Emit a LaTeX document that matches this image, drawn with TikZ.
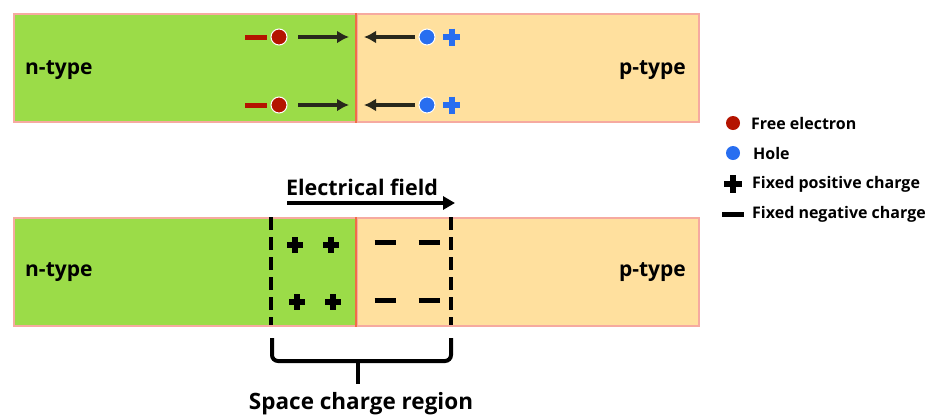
\documentclass[tikz,border=0pt]{standalone}
\usepackage{fontspec}
\setmainfont{Open Sans}
\usetikzlibrary{arrows.meta}
\definecolor{ngreen}{RGB}{155,220,72}
\definecolor{ppeach}{RGB}{255,224,158}
\definecolor{edge}{RGB}{246,170,160}
\definecolor{junc}{RGB}{240,110,70}
\definecolor{elec}{RGB}{180,20,0}
\definecolor{hole}{RGB}{40,110,240}
\definecolor{arr}{RGB}{40,40,28}
\tikzset{
  region/.style={draw=edge, line width=2pt, minimum height=108pt, anchor=north west, inner sep=0pt},
  lbl/.style={font=\bfseries\fontsize{21}{24}\selectfont, inner sep=0pt},
  captxt/.style={font=\bfseries\fontsize{21.5}{24}\selectfont, inner sep=0pt},
  leg/.style={font=\bfseries\fontsize{16}{18}\selectfont, inner sep=0pt, anchor=west},
  flow/.style={arr, line width=4pt, -{Latex[length=12pt,width=13pt]}},
  eldot/.style={circle, fill=elec, draw=white, line width=1pt, minimum size=16pt, inner sep=0pt},
  hodot/.style={circle, fill=hole, draw=white, line width=1pt, minimum size=16pt, inner sep=0pt},
  bar/.style={line width=5.5pt},
  depl/.style={line width=3.5pt, dash pattern=on 13pt off 7pt},
}
\begin{document}
\begin{tikzpicture}[x=1pt,y=-1pt]
\useasboundingbox (0,0) rectangle (936,416);
% top junction
\node[region, fill=ngreen, minimum width=343pt] (n1) at (13,13) {};
\node[region, fill=ppeach, minimum width=342pt] (p1) at (356,13) {};
\draw[junc, line width=2pt] (p1.north west) -- (p1.south west);
\node[lbl, anchor=west] (nt1) at (25,70) {n-type};
\node[lbl, anchor=east] (pt1) at (686,70) {p-type};
\foreach \y/\k in {37/a,105/b}{
  \draw[elec, line width=5pt] (245,\y) -- (267,\y);
  \node[eldot] (e\k) at (279,\y) {};
  \coordinate (ea\k) at (298,\y);
  \coordinate (eb\k) at (349,\y);
  \draw[flow] (ea\k) -- (eb\k);
  \coordinate (ha\k) at (415,\y);
  \coordinate (hb\k) at (364,\y);
  \draw[flow] (ha\k) -- (hb\k);
  \node[hodot] (h\k) at (427,\y) {};
  \draw[hole, line width=6pt] (443,\y) -- (460,\y) (451.5,\y-8.5) -- (451.5,\y+8.5);
}
% bottom junction
\node[region, fill=ngreen, minimum width=343pt] (n2) at (13,217) {};
\node[region, fill=ppeach, minimum width=342pt] (p2) at (356,217) {};
\draw[junc, line width=2pt] (p2.north west) -- (p2.south west);
\node[lbl, anchor=west] (nt2) at (25,272) {n-type};
\node[lbl, anchor=east] (pt2) at (686,272) {p-type};
\foreach \x/\y in {295/245,331/245,297/302,333/302}{
  \draw[bar] (\x-8,\y) -- (\x+8,\y) (\x,\y-8) -- (\x,\y+8);
}
\foreach \x/\y in {385/242,429/242,385/300,429/300}{
  \draw[line width=5pt] (\x-10.5,\y) -- (\x+10.5,\y);
}
\coordinate (dl) at (271,217);
\coordinate (dr) at (451,217);
\draw[depl] (dl) -- ++(0,108);
\draw[depl] (dr) -- ++(0,108);
% field
\node[captxt] (ef) at (362,187) {Electrical field};
\coordinate (fa) at (287,203);
\coordinate (fb) at (455,203);
\draw[line width=3.5pt, -{Triangle[length=12pt,width=13pt]}] (fa) -- (fb);
% brace
\coordinate (bl) at (272,338);
\coordinate (br) at (451,338);
\coordinate (bt) at (358,384);
\draw[line width=4pt, rounded corners=6pt] (bl) -- (272,361) -- (451,361) -- (br);
\draw[line width=4pt] (358,361) -- (bt);
\node[captxt, font=\bfseries\fontsize{22.5}{26}\selectfont] (scr) at (361,404) {Space charge region};
% legend
\node[eldot, draw=none, minimum size=14pt] (l1) at (733,123) {};
\node[leg] (t1) at (751,123) {Free electron};
\node[hodot, draw=none, minimum size=14pt] (l2) at (733,153) {};
\node[leg] (t2) at (753,153) {Hole};
\draw[line width=6pt] (724,184) -- (742,184) (733,175) -- (733,193);
\node[leg] (t3) at (752,184) {Fixed positive charge};
\draw[line width=5pt] (722,214) -- (744,214);
\node[leg] (t4) at (752,214) {Fixed negative charge};
\end{tikzpicture}
\end{document}
